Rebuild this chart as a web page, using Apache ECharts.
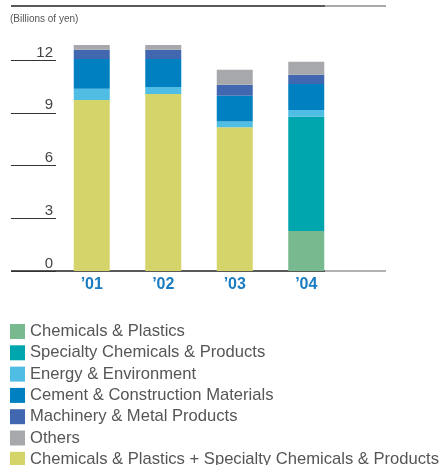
<!DOCTYPE html>
<html>
<head>
<meta charset="utf-8">
<script src="https://cdn.jsdelivr.net/npm/echarts@6/dist/echarts.min.js"></script>
<style>html,body{margin:0;padding:0;background:#fff}#c{width:442px;height:465px}</style>
</head>
<body>
<div id="c"></div>
<script>
var categories = ["\u201901", "\u201902", "\u201903", "\u201904"];
var yTicks = [0, 3, 6, 9, 12];
var combined = [9.73, 10.07, 8.18, 0];
var chemPlastics = [0, 0, 0, 2.28];
var specialty = [0, 0, 0, 6.50];
var energy = [0.63, 0.40, 0.32, 0.38];
var cement = [1.69, 1.58, 1.46, 1.48];
var machinery = [0.53, 0.53, 0.63, 0.52];
var others = [0.28, 0.28, 0.85, 0.74];

var names = {
  cp: "Chemicals & Plastics",
  sp: "Specialty Chemicals & Products",
  en: "Energy & Environment",
  ce: "Cement & Construction Materials",
  ma: "Machinery & Metal Products",
  ot: "Others",
  co: "Chemicals & Plastics + Specialty Chemicals & Products"
};
var colors = {
  cp: "#79b98f", sp: "#00a6ad", en: "#50bde4", ce: "#0080c1",
  ma: "#4167b0", ot: "#a7a8ab", co: "#d5d46a"
};

function bar(key, data) {
  return {
    name: names[key], type: "bar", stack: "s", data: data,
    barWidth: 36, clip: false,
    itemStyle: { color: colors[key] },
    emphasis: { disabled: true }
  };
}

var chart = echarts.init(document.getElementById("c"), null, { renderer: "canvas" });
chart.setOption({
  animation: false,
  title: {
    text: "(Billions of yen)", left: 10, top: 14, padding: 0,
    textStyle: { fontFamily: "Liberation Sans", fontSize: 10, fontWeight: "normal", color: "#555" }
  },
  grid: { left: 56, right: 100, top: 60, bottom: 194 },
  xAxis: {
    type: "category", data: categories,
    axisLine: { show: false }, axisTick: { show: false },
    axisLabel: { margin: 6, color: "#1a7cc1", fontSize: 16, fontWeight: "bold", fontFamily: "Liberation Sans" }
  },
  yAxis: {
    type: "value", min: 0, max: 12, interval: 3,
    axisLine: { show: false },
    splitLine: { show: false },
    axisTick: { show: true, length: 45, lineStyle: { color: "#333", width: 1 } },
    axisLabel: {
      margin: 3, verticalAlign: "bottom", color: "#444", fontSize: 15,
      fontFamily: "Liberation Sans", padding: 0,
      formatter: function (v) { return yTicks.indexOf(v) >= 0 ? String(v) : ""; }
    }
  },
  legend: {
    orient: "vertical", left: 10, top: 323, padding: 0, height: 200,
    itemWidth: 15, itemHeight: 15, itemGap: 4.3, icon: "rect",
    textStyle: { fontFamily: "Liberation Sans", fontSize: 16.6, color: "#555", lineHeight: 15 },
    data: [names.cp, names.sp, names.en, names.ce, names.ma, names.ot, names.co]
  },
  graphic: [
    { type: "line", shape: { x1: 11, y1: 6, x2: 325, y2: 6 }, style: { stroke: "#222", lineWidth: 1.5 } },
    { type: "line", shape: { x1: 325, y1: 6, x2: 386, y2: 6 }, style: { stroke: "#555", lineWidth: 1.2 } },
    { type: "line", shape: { x1: 11, y1: 271, x2: 325, y2: 271 }, style: { stroke: "#222", lineWidth: 1.5 } },
    { type: "line", shape: { x1: 325, y1: 271, x2: 386, y2: 271 }, style: { stroke: "#666", lineWidth: 1.2 } }
  ],
  series: [
    bar("co", combined),
    bar("cp", chemPlastics),
    bar("sp", specialty),
    bar("en", energy),
    bar("ce", cement),
    bar("ma", machinery),
    bar("ot", others)
  ]
});
</script>
</body>
</html>
